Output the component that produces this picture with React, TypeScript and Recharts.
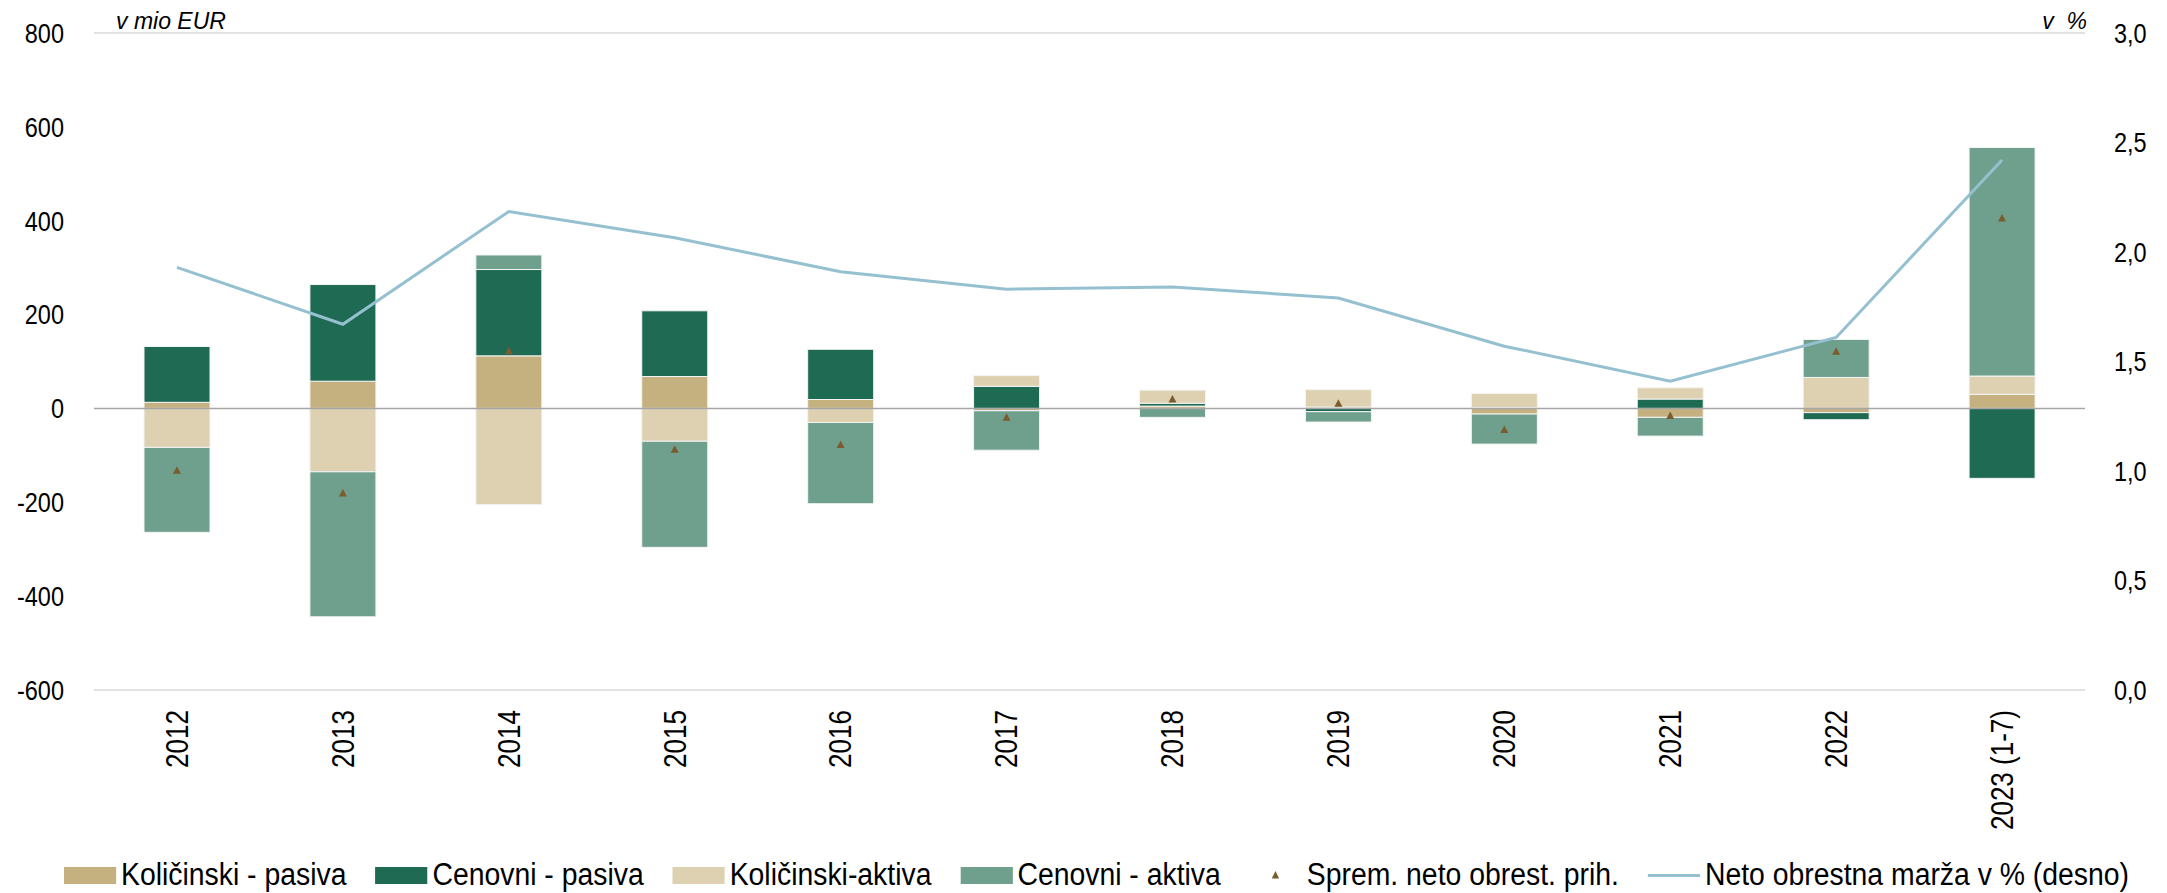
import * as React from "react";
import {
  Bar,
  CartesianGrid,
  ComposedChart,
  Line,
  ReferenceLine,
  Scatter,
  XAxis,
  YAxis,
} from "recharts";

const years = ["2012", "2013", "2014", "2015", "2016", "2017", "2018", "2019", "2020", "2021", "2022", "2023 (1-7)"];
const kolicinskiPasiva = [13, 58, 112, 68, 19, -5, 5, 3, -12, -19, -9, 30];
const cenovniPasiva = [119, 206, 184, 140, 107, 47, 6, -7, 2, 20, -15, -149];
const kolicinskiAktiva = [-83, -135, -205, -70, -30, 23, 28, 37, 30, 24, 66, 39];
const cenovniAktiva = [-181, -309, 31, -226, -173, -84, -19, -22, -64, -40, 81, 487];
const spremNeto = [-132, -180, 123, -87, -77, -19, 20, 11, -45, -15, 122, 406];
const nim = [1.93, 1.67, 2.185, 2.065, 1.91, 1.83, 1.84, 1.79, 1.57, 1.41, 1.61, 2.42];

const leftTicks = [-600, -400, -200, 0, 200, 400, 600, 800];
const rightTicks = [0, 0.5, 1, 1.5, 2, 2.5, 3];

const COLORS = {
  kp: "#C5B180",
  cp: "#1E6A52",
  ka: "#DDD1B1",
  ca: "#6FA08D",
  tri: "#7A5C2E",
  line: "#95C0D0",
};

const FONT = "'Liberation Sans', Arial, sans-serif";
// the source uses a narrow face; squeeze the regular one horizontally
const NARROW = 0.84;

const data = years.map((name, i) => ({
  name,
  kp: kolicinskiPasiva[i],
  cp: cenovniPasiva[i],
  ka: kolicinskiAktiva[i],
  ca: cenovniAktiva[i],
  neto: spremNeto[i],
  nim: nim[i],
}));

const pct = (v: number) => v.toFixed(1).replace(".", ",");

function XTick(props: any) {
  const { x, y, payload } = props;
  return (
    <text
      transform={`translate(${x},${y}) rotate(-90) scale(${NARROW},1)`}
      textAnchor="end"
      dy="0.35em"
      fontSize={31}
      fontFamily={FONT}
      fill="#000"
    >
      {payload.value}
    </text>
  );
}

function narrowText(x: number, y: number, anchor: string, label: string) {
  return (
    <text
      transform={`translate(${x},${y}) scale(${NARROW},1)`}
      textAnchor={anchor}
      dy="0.35em"
      fontSize={28}
      fontFamily={FONT}
      fill="#000"
    >
      {label}
    </text>
  );
}

function LeftTick(props: any) {
  const { x, y, payload } = props;
  return narrowText(x, y, "end", String(payload.value));
}

function RightTick(props: any) {
  const { x, y, payload } = props;
  return narrowText(x, y, "start", pct(payload.value));
}

function Triangle(props: any) {
  const { cx, cy } = props;
  if (cx == null || cy == null) return null;
  return <polygon points={`${cx},${cy - 4} ${cx - 4},${cy + 3.5} ${cx + 4},${cy + 3.5}`} fill={COLORS.tri} />;
}

const legendItems = [
  { label: "Količinski - pasiva", kind: "box", color: COLORS.kp },
  { label: "Cenovni - pasiva", kind: "box", color: COLORS.cp },
  { label: "Količinski-aktiva", kind: "box", color: COLORS.ka },
  { label: "Cenovni - aktiva", kind: "box", color: COLORS.ca },
  { label: "Sprem. neto obrest. prih.", kind: "tri", color: COLORS.tri },
  { label: "Neto obrestna marža v % (desno)", kind: "line", color: COLORS.line },
];

const LEG = 0.915;

export default function App() {
  return (
    <div style={{ position: "absolute", left: 0, top: 0, width: 2167, height: 893, background: "#fff" }}>
      <ComposedChart
        width={2167}
        height={893}
        data={data}
        stackOffset="sign"
        margin={{ top: 33, right: 0, bottom: 0, left: 0 }}
      >
        <CartesianGrid vertical={false} stroke="#D9D9D9" strokeWidth={1.5} />
        <XAxis
          dataKey="name"
          height={203}
          axisLine={false}
          tickLine={false}
          tickSize={0}
          tickMargin={20}
          interval={0}
          tick={<XTick />}
        />
        <YAxis
          yAxisId="left"
          width={94}
          domain={[-600, 800]}
          ticks={leftTicks}
          axisLine={false}
          tickLine={false}
          tickSize={0}
          tickMargin={30}
          tick={<LeftTick />}
        />
        <YAxis
          yAxisId="right"
          orientation="right"
          width={82}
          domain={[0, 3]}
          ticks={rightTicks}
          axisLine={false}
          tickLine={false}
          tickSize={0}
          tickMargin={29}
          tick={<RightTick />}
        />
        <ReferenceLine yAxisId="left" y={0} stroke="#A6A6A6" strokeWidth={1.5} />
        <Bar yAxisId="left" dataKey="kp" stackId="a" fill={COLORS.kp} barSize={66} stroke="#f4f4f4" strokeWidth={1} isAnimationActive={false} />
        <Bar yAxisId="left" dataKey="cp" stackId="a" fill={COLORS.cp} barSize={66} stroke="#f4f4f4" strokeWidth={1} isAnimationActive={false} />
        <Bar yAxisId="left" dataKey="ka" stackId="a" fill={COLORS.ka} barSize={66} stroke="#f4f4f4" strokeWidth={1} isAnimationActive={false} />
        <Bar yAxisId="left" dataKey="ca" stackId="a" fill={COLORS.ca} barSize={66} stroke="#f4f4f4" strokeWidth={1} isAnimationActive={false} />
        <Line
          yAxisId="right"
          dataKey="nim"
          stroke={COLORS.line}
          strokeWidth={3}
          dot={false}
          activeDot={false}
          isAnimationActive={false}
        />
        <Scatter yAxisId="left" dataKey="neto" fill={COLORS.tri} shape={<Triangle />} isAnimationActive={false} />
      </ComposedChart>

      <svg width={2167} height={60} style={{ position: "absolute", left: 0, top: 0, pointerEvents: "none" }}>
        <text x={116} y={29} fontSize={23} fontStyle="italic" fontFamily={FONT} fill="#000">
          v mio EUR
        </text>
        <text x={2087} y={29} fontSize={23} fontStyle="italic" fontFamily={FONT} fill="#000" textAnchor="end" style={{ whiteSpace: "pre" }}>
          {"v  %"}
        </text>
      </svg>

      {/* legend, squeezed as a whole */}
      <div
        style={{
          position: "absolute",
          left: 64,
          top: 856,
          height: 38,
          display: "flex",
          alignItems: "center",
          fontFamily: FONT,
          fontSize: 31,
          color: "#000",
          whiteSpace: "nowrap",
          transform: `scaleX(${LEG})`,
          transformOrigin: "0 50%",
        }}
      >
        {legendItems.map((item) => (
          <div key={item.label} style={{ display: "flex", alignItems: "center", marginRight: 29 / LEG }}>
            <div
              style={{
                width: 52 / LEG,
                height: 17,
                display: "flex",
                alignItems: "center",
                justifyContent: "center",
                marginRight: 5 / LEG,
              }}
            >
              {item.kind === "box" && <div style={{ width: 52 / LEG, height: 17, background: item.color }} />}
              {item.kind === "tri" && (
                <svg width={10} height={10}>
                  <polygon points="5,1 1,8.5 9,8.5" fill={item.color} />
                </svg>
              )}
              {item.kind === "line" && <div style={{ width: 52 / LEG, height: 3, background: item.color }} />}
            </div>
            <span>{item.label}</span>
          </div>
        ))}
      </div>
    </div>
  );
}
